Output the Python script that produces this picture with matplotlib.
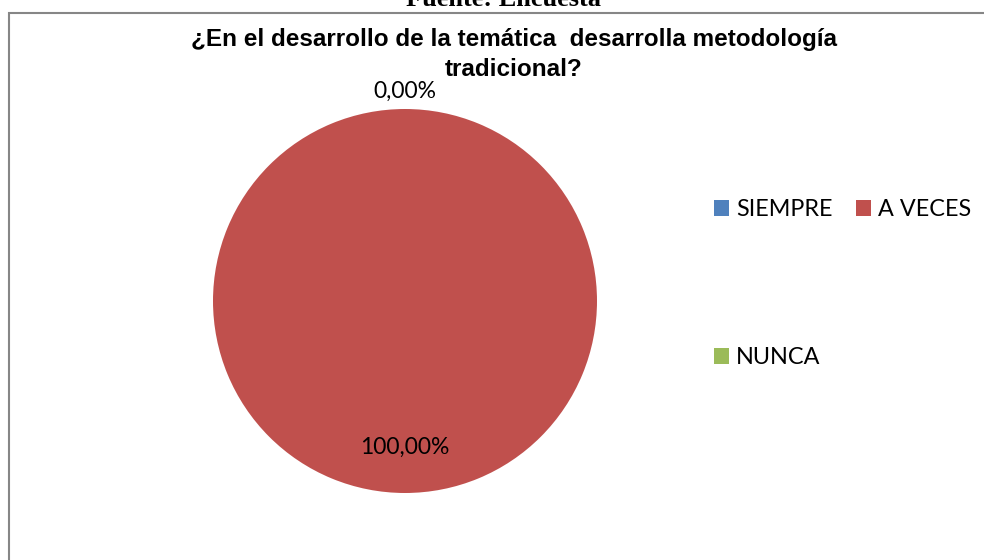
import matplotlib
matplotlib.use("Agg")
import matplotlib.pyplot as plt
from matplotlib.patches import Patch, Rectangle
import numpy as np

categories = ["SIEMPRE", "A VECES", "NUNCA"]
values = [0, 100, 0]
colors = ["#4F81BD", "#C0504D", "#9BBB59"]
title_lines = ["¿En el desarrollo de la temática  desarrolla metodología", "tradicional?"]
source = "Fuente: Encuesta"

W, H = 984, 560
fig = plt.figure(figsize=(W / 100, H / 100), dpi=100)
fig.patch.set_facecolor("white")

# outer border of chart area
fig.patches.append(Rectangle((9 / W, -0.05), 1.2, 1 - 12.5 / H + 0.05,
                             transform=fig.transFigure, fill=False,
                             edgecolor="#868686", linewidth=1.5))

fig.text(503 / W, 1 - 6 / H, source, ha="center", va="baseline",
         fontsize=19, fontweight="bold", family=["Liberation Serif", "DejaVu Serif"])

for line, base in zip(title_lines, [46, 76]):
    fig.text(514 / W, 1 - base / H, line, ha="center", va="baseline", fontsize=17.5,
             fontweight="bold", family=["Liberation Sans", "DejaVu Sans"])

cx, cy, r = 405, 301, 192
ax = fig.add_axes([(cx - r) / W, (H - cy - r) / H, 2 * r / W, 2 * r / H])
wedges, _ = ax.pie(values, colors=colors, startangle=90, counterclock=False,
                   radius=1, wedgeprops=dict(linewidth=0))
ax.set_xlim(-1, 1)
ax.set_ylim(-1, 1)
ax.set_aspect("equal")
ax.axis("off")

total = sum(values)
shown_zero = False
for w, v in zip(wedges, values):
    mid = np.deg2rad((w.theta1 + w.theta2) / 2)
    txt = f"{v / total * 100:.2f}%".replace(".", ",")
    if v == 0:
        if shown_zero:
            continue
        shown_zero = True
        d = 1.057
        va = "baseline"
    else:
        d = 0.76
        va = "center"
    ax.text(d * np.cos(mid), d * np.sin(mid), txt, ha="center", va=va,
            fontsize=16.5, family=["Lato", "DejaVu Sans"], clip_on=False)

order = [0, 2, 1]
handles = [Patch(facecolor=colors[i], edgecolor="none") for i in order]
labels = [categories[i] for i in order]
leg = fig.legend(handles, labels, loc="upper left",
                 bbox_to_anchor=(714 / W, 1 - 199 / H), ncol=2, frameon=False,
                 prop=dict(family=["Lato", "DejaVu Sans"], size=16.8),
                 handlelength=0.65, handleheight=0.65, handletextpad=0.3,
                 columnspacing=1.0, labelspacing=5.45, borderpad=0, borderaxespad=0)

fig.savefig("out.png", dpi=100)
